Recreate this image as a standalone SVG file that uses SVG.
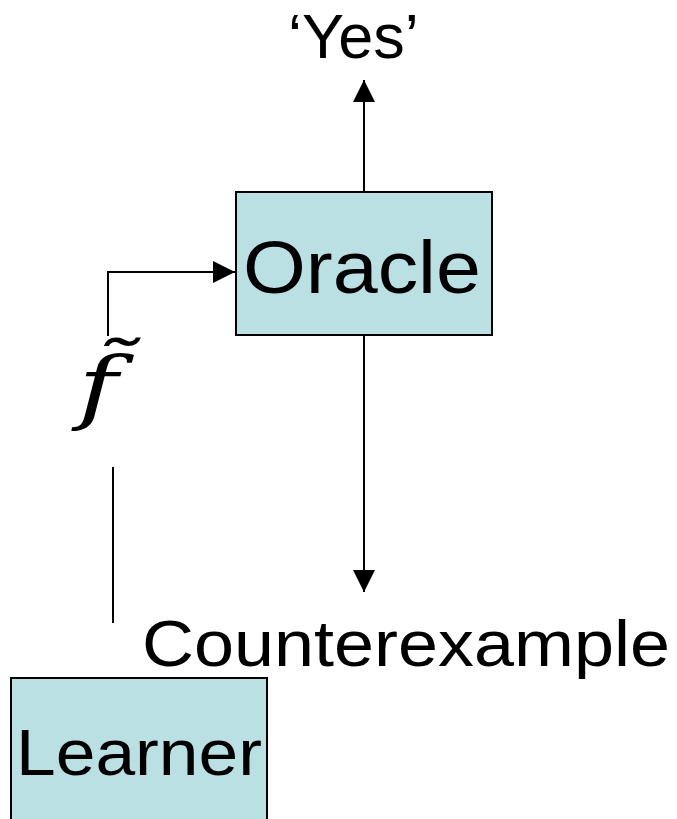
<svg xmlns="http://www.w3.org/2000/svg" width="677" height="819" viewBox="0 0 677 819">
  <style>
    .box { fill: #BBE0E3; stroke: #000; stroke-width: 2; }
    .label { font-family: "Liberation Sans", Arial, sans-serif; fill: #000; }
    .wire { fill: none; stroke: #000; stroke-width: 2; }
    .math { font-family: "DejaVu Serif", "Liberation Serif", serif; font-style: italic; fill: #000; }
  </style>
  <defs>
    <marker id="head" markerUnits="userSpaceOnUse" markerWidth="22" markerHeight="22" viewBox="0 0 21 21" refX="21" refY="10.5" orient="auto">
      <path d="M0,0 L21,10.5 L0,21 Z" fill="#000"/>
    </marker>
  </defs>

  <rect width="677" height="819" fill="#fff"/>

  <g id="connectors">
    <line class="wire" x1="364" y1="192" x2="364" y2="80" marker-end="url(#head)"/>
    <line class="wire" x1="364" y1="336" x2="364" y2="592" marker-end="url(#head)"/>
    <polyline class="wire" points="108,336 108,272 235,272" marker-end="url(#head)"/>
    <line class="wire" x1="113" y1="467" x2="113" y2="623"/>
  </g>

  <g id="oracle">
    <rect class="box" x="236" y="192" width="256" height="143"/>
    <text class="label" x="243" y="293" font-size="75" textLength="238" lengthAdjust="spacingAndGlyphs">Oracle</text>
  </g>

  <g id="learner">
    <rect class="box" x="11" y="678" width="256" height="150"/>
    <text class="label" x="16" y="775" font-size="65" textLength="246" lengthAdjust="spacingAndGlyphs">Learner</text>
  </g>

  <g id="yes">
    <text class="label" x="288" y="58" font-size="63">‘Yes’</text>
  </g>

  <g id="counterexample">
    <text class="label" x="142" y="666" font-size="64" textLength="528" lengthAdjust="spacingAndGlyphs">Counterexample</text>
  </g>

  <g id="hypothesis">
    <text class="math" transform="translate(78,414) scale(1.35,1)" x="0" y="0" font-size="80">f̃</text>
  </g>
</svg>
